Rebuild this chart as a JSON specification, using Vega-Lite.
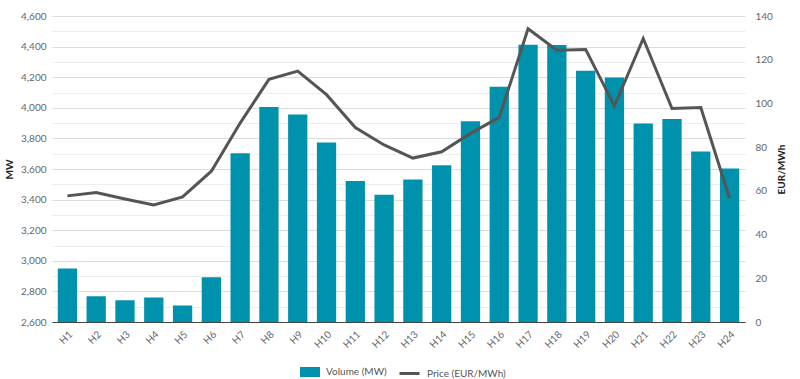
{
  "$schema": "https://vega.github.io/schema/vega-lite/v6.json",
  "autosize": {"type": "none"},
  "width": 693,
  "height": 306,
  "padding": {"left": 52, "top": 16, "right": 55, "bottom": 57},
  "background": "white",
  "config": {
    "font": "Lato",
    "view": {"stroke": null},
    "axis": {"labelColor": "#666", "labelFontSize": 10, "titleFontSize": 10, "titleColor": "#222", "titleFontWeight": "bold", "ticks": false, "domain": false},
    "legend": {"labelColor": "#555", "labelFontSize": 10, "labelFont": "Lato"}
  },
  "data": {"values": [
    {"hour": "H1", "volume": 2950, "price": 57.7},
    {"hour": "H2", "volume": 2768, "price": 59.2},
    {"hour": "H3", "volume": 2742, "price": 56.3},
    {"hour": "H4", "volume": 2760, "price": 53.6},
    {"hour": "H5", "volume": 2708, "price": 57.2},
    {"hour": "H6", "volume": 2892, "price": 69},
    {"hour": "H7", "volume": 3703, "price": 91},
    {"hour": "H8", "volume": 4005, "price": 111},
    {"hour": "H9", "volume": 3957, "price": 114.8},
    {"hour": "H10", "volume": 3773, "price": 104},
    {"hour": "H11", "volume": 3522, "price": 89},
    {"hour": "H12", "volume": 3432, "price": 81},
    {"hour": "H13", "volume": 3532, "price": 75},
    {"hour": "H14", "volume": 3625, "price": 77.9},
    {"hour": "H15", "volume": 3912, "price": 86.3},
    {"hour": "H16", "volume": 4138, "price": 93.6},
    {"hour": "H17", "volume": 4412, "price": 134.2},
    {"hour": "H18", "volume": 4410, "price": 124.3},
    {"hour": "H19", "volume": 4242, "price": 124.7},
    {"hour": "H20", "volume": 4198, "price": 98.8},
    {"hour": "H21", "volume": 3898, "price": 129.7},
    {"hour": "H22", "volume": 3926, "price": 97.7},
    {"hour": "H23", "volume": 3714, "price": 98.1},
    {"hour": "H24", "volume": 3603, "price": 56.6}
  ]},
  "encoding": {
    "x": {"field": "hour", "type": "ordinal", "sort": null,
      "scale": {"paddingInner": 0.33, "paddingOuter": 0.2},
      "axis": {"title": null, "labelAngle": -45, "domain": true, "domainColor": "#444", "domainWidth": 1, "labelPadding": 7, "grid": false}}
  },
  "layer": [
    {
      "mark": {"type": "bar", "clip": true},
      "encoding": {
        "y": {"field": "volume", "type": "quantitative",
          "scale": {"domain": [2600, 4600], "zero": false, "nice": false},
          "axis": {"title": "MW", "titlePadding": 6, "orient": "left",
            "values": [2600,2700,2800,2900,3000,3100,3200,3300,3400,3500,3600,3700,3800,3900,4000,4100,4200,4300,4400,4500,4600],
            "labelExpr": "datum.value % 200 === 0 ? format(datum.value, ',') : ''",
            "grid": true,
            "gridColor": {"condition": {"test": "datum.value % 200 === 0", "value": "#dcdcdc"}, "value": "#ededed"},
            "labelPadding": 6}},
        "fill": {"datum": "Volume (MW)", "type": "nominal",
          "scale": {"domain": ["Volume (MW)"], "range": ["#0092ad"]},
          "legend": {"title": null, "orient": "none", "legendX": 248, "legendY": 346, "symbolType": "M-1,-0.5H1V0.5H-1Z", "symbolSize": 400, "symbolStrokeWidth": 0, "labelOffset": 6}}
      }
    },
    {
      "mark": {"type": "line", "strokeWidth": 3, "color": "#555"},
      "encoding": {
        "y": {"field": "price", "type": "quantitative",
          "scale": {"domain": [0, 140], "nice": false},
          "axis": {"title": "EUR/MWh", "orient": "right", "titleAngle": 270, "titlePadding": 14,
            "values": [0,20,40,60,80,100,120,140], "grid": false, "labelPadding": 10}},
        "stroke": {"datum": "Price (EUR/MWh)", "type": "nominal",
          "scale": {"domain": ["Price (EUR/MWh)"], "range": ["#555"]},
          "legend": {"title": null, "orient": "none", "legendX": 346, "legendY": 346, "symbolType": "stroke", "symbolStrokeWidth": 3, "symbolSize": 400, "labelOffset": 6}}
      }
    }
  ],
  "resolve": {"scale": {"y": "independent", "fill": "independent", "stroke": "independent"}}
}
